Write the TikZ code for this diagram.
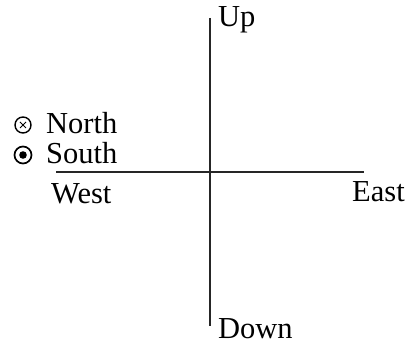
\documentclass[tikz,border=0pt]{standalone}
\usepackage{fontspec}
\setmainfont{Liberation Serif}
\begin{document}
\begin{tikzpicture}[x=1pt,y=-1pt,
  lbl/.style={anchor=base west,inner sep=0pt,font=\fontsize{30.5}{32}\selectfont},
  axis/.style={line width=2pt,black!85},
  sym/.style={circle,draw,line width=1.4pt,inner sep=0pt,minimum size=16pt}]
\useasboundingbox (0,0) rectangle (406,344);
\coordinate (vtop) at (210,18);
\coordinate (vbot) at (210,326);
\coordinate (hl) at (56,172);
\coordinate (hr) at (364,172);
\draw[axis] (vtop) -- (vbot);
\draw[axis] (hl) -- (hr);
\node[lbl] (up) at (218,27) {Up};
\node[lbl] (down) at (218,338) {Down};
\node[lbl] (west) at (51,204) {West};
\node[lbl] (east) at (352,202) {East};
\node[lbl] (north) at (46,134) {North};
\node[lbl] (south) at (46,164) {South};
\node[sym] (ns) at (23,125) {};
\node[sym,line width=1.7pt,minimum size=17pt] (ss) at (23,155) {};
\draw[line width=0.8pt] ([shift={(-3,-3)}]ns.center) -- ([shift={(3,3)}]ns.center)
  ([shift={(-3,3)}]ns.center) -- ([shift={(3,-3)}]ns.center);
\fill (ss.center) circle (3.8);
\end{tikzpicture}
\end{document}
